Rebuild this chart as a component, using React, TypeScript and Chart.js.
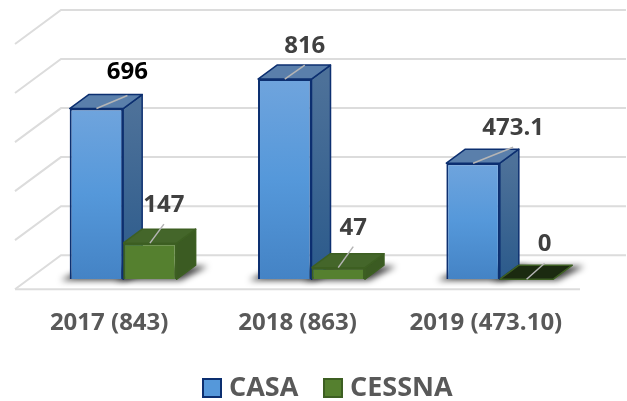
import React, { useEffect, useRef } from "react";
import { Chart, registerables } from "chart.js";

Chart.register(...registerables);

const categories = ["2017 (843)", "2018 (863)", "2019 (473.10)"];
const casaValues = [696, 816, 473.1];
const cessnaValues = [147, 47, 0];
const yTicksMax = 1000;
const yTickStep = 200;

// Drawing offsets of the pseudo-3D look
const FONT = "'Open Sans', Lato, sans-serif";
const BAR_SHIFT = { x: 14, y: -10 };
const BAR_DEPTH = { x: 19, y: -14 };
const WALL_DEPTH = { x: 46, y: -34 };
const LEADERS = [
  [{ x: 31, y: -13 }, { x: 14, y: -19 }],
  [{ x: 20, y: -14 }, { x: 15, y: -21 }],
  [{ x: 40, y: -16 }, { x: 18, y: -16 }],
];
const LEGEND_BOXES = [203, 324];

const STYLES = [
  {
    top: "#6fa4dd", mid: "#5598da", bottom: "#4483c5", border: "#0c2f70",
    roof: "#5a7fab", sideTop: "#4d7199", sideBottom: "#2b5a8b", edge: "#0c2f70",
  },
  {
    top: "#55802f", mid: "#55802f", bottom: "#55802f", border: "#3d5f22",
    roof: "#44662a", sideTop: "#3b5b22", sideBottom: "#3b5b22", edge: "#3d5f22",
  },
];

function frontFill(index: number) {
  const s = STYLES[index];
  return (c: any) => {
    if (c.raw === undefined) return s.mid;
    const y = c.chart.scales.y;
    if (!y) return s.mid;
    const y0 = y.getPixelForValue(c.raw);
    const y1 = y.getPixelForValue(0);
    if (!Number.isFinite(y0) || !Number.isFinite(y1) || y1 - y0 < 1) return s.mid;
    const g = c.chart.ctx.createLinearGradient(0, y0, 0, y1);
    g.addColorStop(0, s.top);
    g.addColorStop(0.5, s.mid);
    g.addColorStop(1, s.bottom);
    return g;
  };
}

function poly(ctx: CanvasRenderingContext2D, pts: number[][]) {
  ctx.beginPath();
  pts.forEach((p, i) => (i ? ctx.lineTo(p[0], p[1]) : ctx.moveTo(p[0], p[1])));
  ctx.closePath();
}

const threeD = {
  id: "threeD",
  beforeDatasetsDraw(chart: any) {
    const { ctx, scales } = chart;
    const y = scales.y;
    const { left, right, bottom } = chart.chartArea;
    const d = WALL_DEPTH;
    ctx.save();
    ctx.strokeStyle = "#dcdcdc";
    ctx.lineWidth = 2;
    y.ticks.forEach((t: any) => {
      const py = y.getPixelForValue(t.value);
      ctx.beginPath();
      ctx.moveTo(left, py);
      ctx.lineTo(left + d.x, py + d.y);
      ctx.lineTo(right + d.x, py + d.y);
      ctx.stroke();
    });
    ctx.beginPath();
    ctx.moveTo(left, bottom);
    ctx.lineTo(right, bottom);
    ctx.stroke();
    ctx.restore();

    ctx.save();
    ctx.translate(BAR_SHIFT.x, BAR_SHIFT.y);
    const b = BAR_DEPTH;
    // floor shadows
    chart.data.datasets.forEach((_: any, di: number) => {
      chart.getDatasetMeta(di).data.forEach((el: any) => {
        const x0 = el.x - el.width / 2;
        const x1 = el.x + el.width / 2;
        const base = el.base;
        ctx.save();
        ctx.filter = "blur(3px)";
        ctx.fillStyle = "rgba(0,0,0,0.75)";
        poly(ctx, [
          [x0 - 9, base + 1],
          [x1 + 4, base + 1],
          [x1 + b.x + 12, base + b.y + 1],
          [x0 + b.x, base + b.y + 1],
        ]);
        ctx.fill();
        ctx.restore();
      });
    });
    // top and side faces
    chart.data.datasets.forEach((ds: any, di: number) => {
      const s = STYLES[di];
      chart.getDatasetMeta(di).data.forEach((el: any, i: number) => {
        const x0 = el.x - el.width / 2;
        const x1 = el.x + el.width / 2;
        const top = el.y;
        const base = el.base;
        const empty = ds.data[i] === 0;
        ctx.lineWidth = 1.5;
        ctx.lineJoin = "round";
        ctx.strokeStyle = s.edge;
        if (base - top > 1) {
          const g = ctx.createLinearGradient(0, top, 0, base);
          g.addColorStop(0, s.sideTop);
          g.addColorStop(1, s.sideBottom);
          ctx.fillStyle = g;
          poly(ctx, [
            [x1, top],
            [x1 + b.x, top + b.y],
            [x1 + b.x, base + b.y],
            [x1, base],
          ]);
          ctx.fill();
          ctx.stroke();
        }
        ctx.fillStyle = empty ? "#1b2a10" : s.roof;
        poly(ctx, [
          [x0, top],
          [x0 + b.x, top + b.y],
          [x1 + b.x, top + b.y],
          [x1, top],
        ]);
        ctx.fill();
        ctx.stroke();
      });
    });
  },
  afterDatasetsDraw(chart: any) {
    const { ctx } = chart;
    chart.data.datasets.forEach((ds: any, di: number) => {
      chart.getDatasetMeta(di).data.forEach((el: any, i: number) => {
        const off = LEADERS[i][di];
        const sx = el.x;
        const sy = el.y;
        const ex = sx + off.x;
        const ey = sy + off.y;
        ctx.strokeStyle = "#b5b5b5";
        ctx.lineWidth = 1.5;
        ctx.beginPath();
        ctx.moveTo(sx, sy);
        ctx.lineTo(ex, ey);
        ctx.stroke();
        const first = di === 0 && i === 0;
        ctx.fillStyle = first ? "#000000" : "#404040";
        ctx.font = `bold 24px ${FONT}`;
        ctx.textAlign = "center";
        ctx.textBaseline = "middle";
        ctx.fillText(String(ds.data[i]), ex, ey - (first ? 23 : 19));
      });
    });
    ctx.restore();
  },
  afterDraw(chart: any) {
    const { ctx } = chart;
    ctx.save();
    chart.data.datasets.forEach((ds: any, di: number) => {
      const s = STYLES[di];
      const x = LEGEND_BOXES[di];
      ctx.fillStyle = s.mid;
      ctx.strokeStyle = s.border;
      ctx.lineWidth = 2;
      ctx.fillRect(x, 379, 18, 18);
      ctx.strokeRect(x, 379, 18, 18);
      ctx.fillStyle = "#595959";
      ctx.font = `bold 27px ${FONT}`;
      ctx.textAlign = "left";
      ctx.textBaseline = "middle";
      ctx.fillText(ds.label, x + 26, 388);
    });
    ctx.restore();
  },
};

export default function App() {
  const ref = useRef<HTMLCanvasElement>(null);
  useEffect(() => {
    document.body.style.margin = "0";
    const chart = new Chart(ref.current as HTMLCanvasElement, {
      type: "bar",
      data: {
        labels: categories,
        datasets: [
          {
            label: "CASA",
            data: casaValues,
            backgroundColor: frontFill(0),
            borderColor: STYLES[0].border,
            borderWidth: 2,
          },
          {
            label: "CESSNA",
            data: cessnaValues,
            backgroundColor: frontFill(1),
            borderColor: STYLES[1].border,
            borderWidth: 2,
          },
        ],
      },
      options: {
        animation: false,
        responsive: false,
        categoryPercentage: 0.568,
        barPercentage: 1,
        layout: { padding: { left: 15, right: 47, top: 44, bottom: 51 } },
        plugins: {
          title: { display: false },
          tooltip: { enabled: false },
          legend: { display: false },
        },
        scales: {
          x: {
            grid: { display: false },
            border: { display: false },
            ticks: {
              color: "#595959",
              maxRotation: 0,
              padding: 12,
              font: { family: FONT, size: 24, weight: "bold" },
            },
          },
          y: {
            display: false,
            min: 0,
            max: yTicksMax,
            ticks: { stepSize: yTickStep },
          },
        },
      },
      plugins: [threeD],
    } as any);
    return () => chart.destroy();
  }, []);
  return <canvas ref={ref} width={627} height={401} style={{ display: "block" }} />;
}
